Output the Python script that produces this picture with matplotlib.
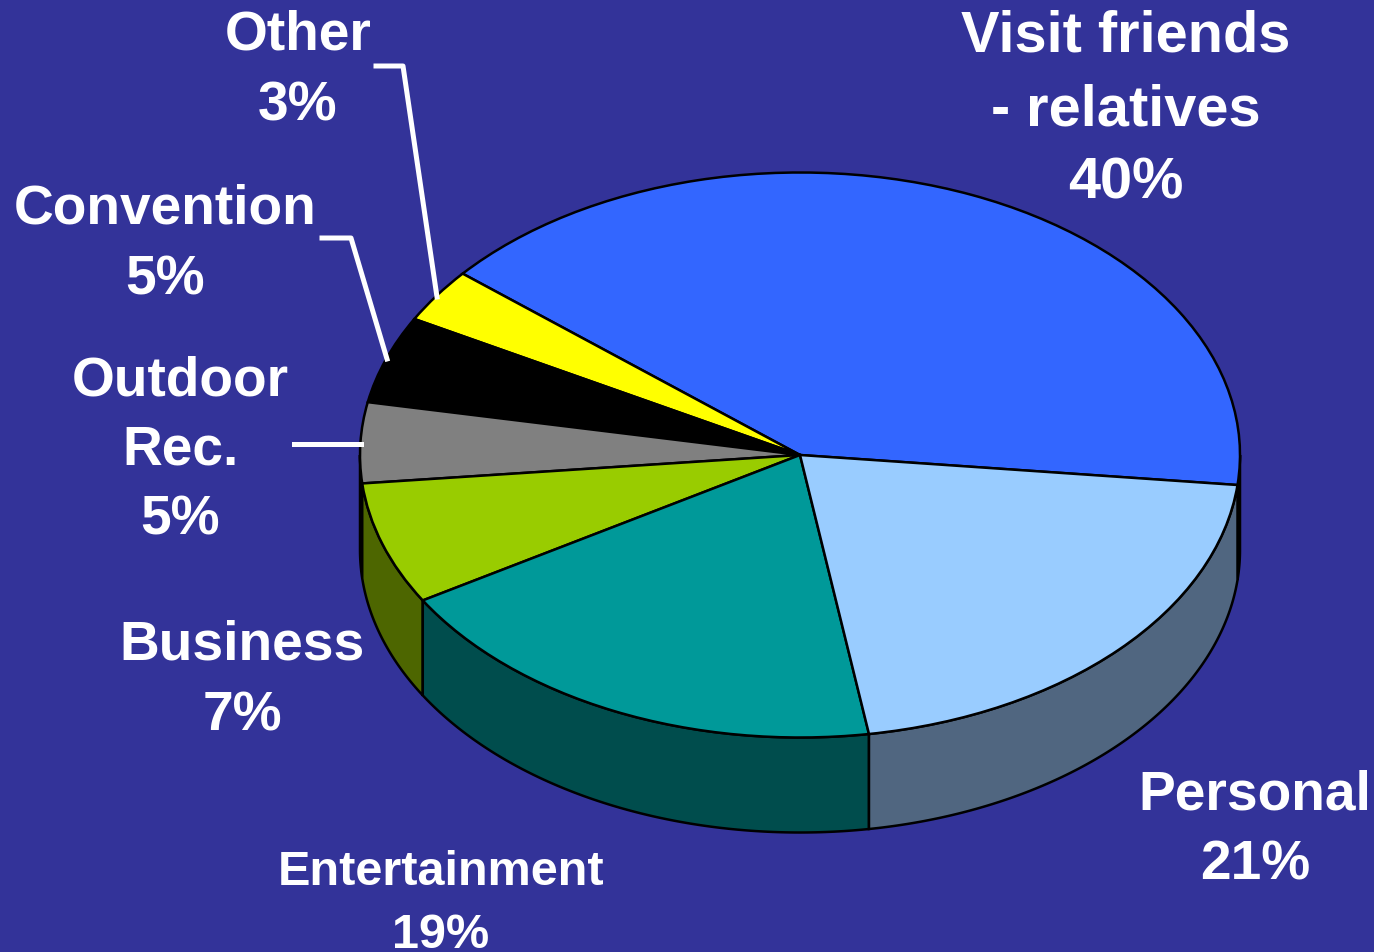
import numpy as np
import matplotlib
matplotlib.use("Agg")
import matplotlib.pyplot as plt

W, H = 1374, 953
CX, CY, RX, RY, DEPTH = 800, 456, 440, 282.5, 95

categories = ["Visit friends", "Other", "Convention", "Outdoor Rec.", "Business", "Entertainment", "Personal"]
# slice sizes as drawn in the picture (the printed labels round them)
shares = [40.6, 3.1, 5.0, 4.6, 7.0, 18.9, 20.8]
top_colors = ["#3366FF", "#FFFF00", "#000000", "#808080", "#99CC00", "#009999", "#99CCFF"]
side_colors = ["#000000", "#999900", "#000000", "#000000", "#4D6600", "#004D4D", "#506680"]
START = -6.1

label_texts = [
    "Visit friends\n- relatives\n40%",
    "Other\n3%",
    "Convention\n5%",
    "Outdoor\nRec.\n5%",
    "Business\n7%",
    "Entertainment\n19%",
    "Personal\n21%",
]
label_x = [1126, 298, 165, 180, 242, 441, 1255]
label_y = [110, 71, 245, 451, 681, 904, 831]
label_pt = [41.6, 39.7, 39.7, 39.7, 39.7, 35.0, 39.7]
label_spacing = [1.47, 1.47, 1.48, 1.44, 1.48, 1.53, 1.45]
leaders = [
    ([376, 403, 437], [67, 67, 298]),
    ([322, 351, 387], [239, 239, 360]),
    ([294, 361], [445, 445]),
]

plt.rcParams["font.family"] = ["Liberation Sans", "DejaVu Sans"]
fig = plt.figure(figsize=(W / 100, H / 100), dpi=100, facecolor="#333399")

ax_w, ax_h = 2.5 * RX, 2.5 * RY
ax = fig.add_axes([(CX - ax_w / 2) / W, 1 - (CY + ax_h / 2) / H, ax_w / W, ax_h / H])
ax.pie(shares, colors=top_colors, startangle=START, radius=1, center=(0, 0), counterclock=True,
       wedgeprops=dict(edgecolor="black", linewidth=1.8, zorder=5), normalize=True, frame=False)
ax.set_aspect("auto")
ax.set_xlim(-1.25, 1.25)
ax.set_ylim(-1.25, 1.25)
ax.axis("off")

# walls of the front half of the disc
d = DEPTH / RY
edges = START + np.cumsum([0] + shares) * 3.6
for a0, a1, c in zip(edges[:-1], edges[1:], side_colors):
    for shift in (0, 360):
        lo, hi = max(a0 + shift, 180), min(a1 + shift, 360)
        if hi <= lo:
            continue
        t = np.radians(np.linspace(lo, hi, 120))
        x, y = np.cos(t), np.sin(t)
        ax.fill(np.r_[x, x[::-1]], np.r_[y, y[::-1] - d], facecolor=c, edgecolor="black",
                linewidth=1.8, zorder=2, clip_on=False)

# pixel-space overlay for the leader lines and labels
ov = fig.add_axes([0, 0, 1, 1], facecolor="none")
ov.set_xlim(0, W)
ov.set_ylim(H, 0)
ov.axis("off")
for xs, ys in leaders:
    ov.plot(xs, ys, color="white", lw=3.6, solid_joinstyle="round")
for txt, x, y, fs, sp in zip(label_texts, label_x, label_y, label_pt, label_spacing):
    ov.text(x, y, txt, color="white", fontsize=fs, fontweight="bold", ha="center", va="center",
            linespacing=sp, clip_on=False)

fig.savefig("out.png", dpi=100, facecolor=fig.get_facecolor())
